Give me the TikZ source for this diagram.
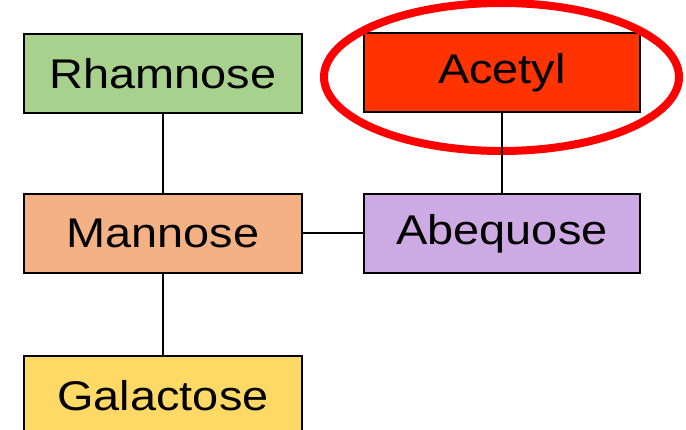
\documentclass[tikz,border=0pt]{standalone}
\usepackage{fontspec}
\setmainfont{Liberation Sans}
\usetikzlibrary{shapes.geometric}
\definecolor{cgreen}{HTML}{A9D18E}
\definecolor{cred}{HTML}{FF3300}
\definecolor{corange}{HTML}{F4B183}
\definecolor{cpurple}{HTML}{CDAAE3}
\definecolor{cyellow}{HTML}{FFD966}
\definecolor{ringred}{HTML}{FF0000}
\tikzset{
  sugar/.style={draw=black, line width=2pt, minimum width=278pt, minimum height=79pt, inner sep=0pt,
    font=\fontsize{41.5}{48}\selectfont},
  link/.style={draw=black, line width=2pt},
  ring/.style={ellipse, draw=ringred, line width=8pt, minimum width=355pt, minimum height=148pt, inner sep=0pt}
}
\newcommand{\wide}[1]{\scalebox{1.13}[1]{#1}}
\begin{document}
\begin{tikzpicture}[x=1pt,y=-1pt]
\useasboundingbox (0,0) rectangle (686,430);
\clip (0,0) rectangle (686,430);
\fill[white] (0,0) rectangle (686,430);
\node[sugar, fill=cgreen] (rha) at (163,73.5) {\wide{Rhamnose}};
\node[sugar, fill=cred, minimum width=276pt] (ace) at (502,72.5) {\wide{Acetyl}};
\node[sugar, fill=corange] (man) at (163,233.5) {\wide{Mannose}};
\node[sugar, fill=cpurple, minimum width=276pt] (abe) at (502,233.5) {\wide{Abequose}};
\node[sugar, fill=cyellow] (gal) at (163,395.5) {\wide{Galactose}};
\node[ring] (circ) at (501.5,77) {};
\draw[link] (rha) -- (man);
\draw[link] (man) -- (abe);
\draw[link] (ace) -- (abe);
\draw[link] (man) -- (gal);
\end{tikzpicture}
\end{document}
